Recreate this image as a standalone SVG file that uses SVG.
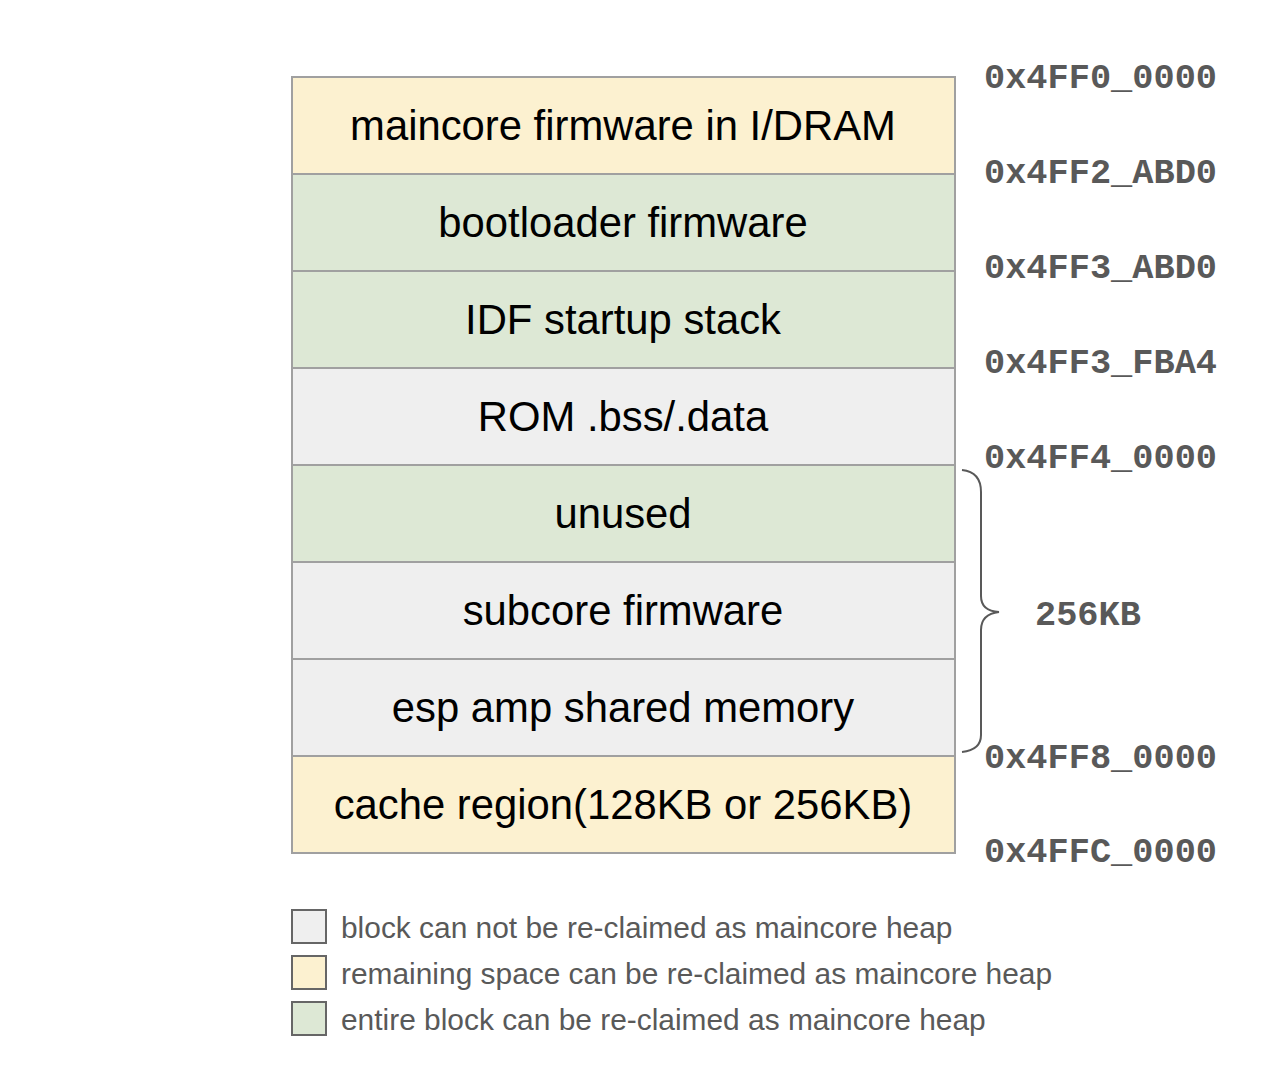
<svg xmlns="http://www.w3.org/2000/svg" width="1274" height="1074" viewBox="0 0 1274 1074">
<style>
.blk{stroke:#a0a0a0;stroke-width:2}
.y{fill:#fcf1d0}.g{fill:#dde8d5}.n{fill:#efefef}
.bt{font-family:"Liberation Sans",Arial,sans-serif;font-size:41.8px;fill:#000;text-anchor:middle}
.ad{font-family:"Liberation Mono","Courier New",monospace;font-weight:bold;font-size:35.3px;fill:#595959}
.lg{stroke:#666;stroke-width:2}
.lt{font-family:"Liberation Sans",Arial,sans-serif;font-size:29.9px;fill:#595959}
</style>
<rect width="1274" height="1074" fill="#fff"/>
<g id="b1"><rect class="blk y" x="292" y="77" width="663" height="97"/><text class="bt" x="623" y="140">maincore firmware in I/DRAM</text></g>
<g id="b2"><rect class="blk g" x="292" y="174" width="663" height="97"/><text class="bt" x="623" y="237">bootloader firmware</text></g>
<g id="b3"><rect class="blk g" x="292" y="271" width="663" height="97"/><text class="bt" x="623" y="334">IDF startup stack</text></g>
<g id="b4"><rect class="blk n" x="292" y="368" width="663" height="97"/><text class="bt" x="623" y="431">ROM .bss/.data</text></g>
<g id="b5"><rect class="blk g" x="292" y="465" width="663" height="97"/><text class="bt" x="623" y="528">unused</text></g>
<g id="b6"><rect class="blk n" x="292" y="562" width="663" height="97"/><text class="bt" x="623" y="625">subcore firmware</text></g>
<g id="b7"><rect class="blk n" x="292" y="659" width="663" height="97"/><text class="bt" x="623" y="722">esp amp shared memory</text></g>
<g id="b8"><rect class="blk y" x="292" y="756" width="663" height="97"/><text class="bt" x="623" y="819">cache region(128KB or 256KB)</text></g>
<g id="addresses">
<text class="ad" x="984" y="88">0x4FF0_0000</text>
<text class="ad" x="984" y="183">0x4FF2_ABD0</text>
<text class="ad" x="984" y="278">0x4FF3_ABD0</text>
<text class="ad" x="984" y="373">0x4FF3_FBA4</text>
<text class="ad" x="984" y="468">0x4FF4_0000</text>
<text class="ad" x="984" y="768">0x4FF8_0000</text>
<text class="ad" x="984" y="862">0x4FFC_0000</text>
</g>
<g id="connectors">
<path d="M962,470 Q981,472 981,492 L981,596 Q981,611 999,612 Q981,614 981,630 L981,735 Q981,750 962,752" fill="none" stroke="#595959" stroke-width="2"/>
</g>
<g id="size"><text class="ad" x="1035" y="625">256KB</text></g>
<g id="legend">
<rect class="lg n" x="292" y="910" width="34" height="33"/><text class="lt" x="341" y="938">block can not be re-claimed as maincore heap</text>
<rect class="lg y" x="292" y="956" width="34" height="33"/><text class="lt" x="341" y="984">remaining space can be re-claimed as maincore heap</text>
<rect class="lg g" x="292" y="1002" width="34" height="33"/><text class="lt" x="341" y="1030">entire block can be re-claimed as maincore heap</text>
</g>
</svg>
